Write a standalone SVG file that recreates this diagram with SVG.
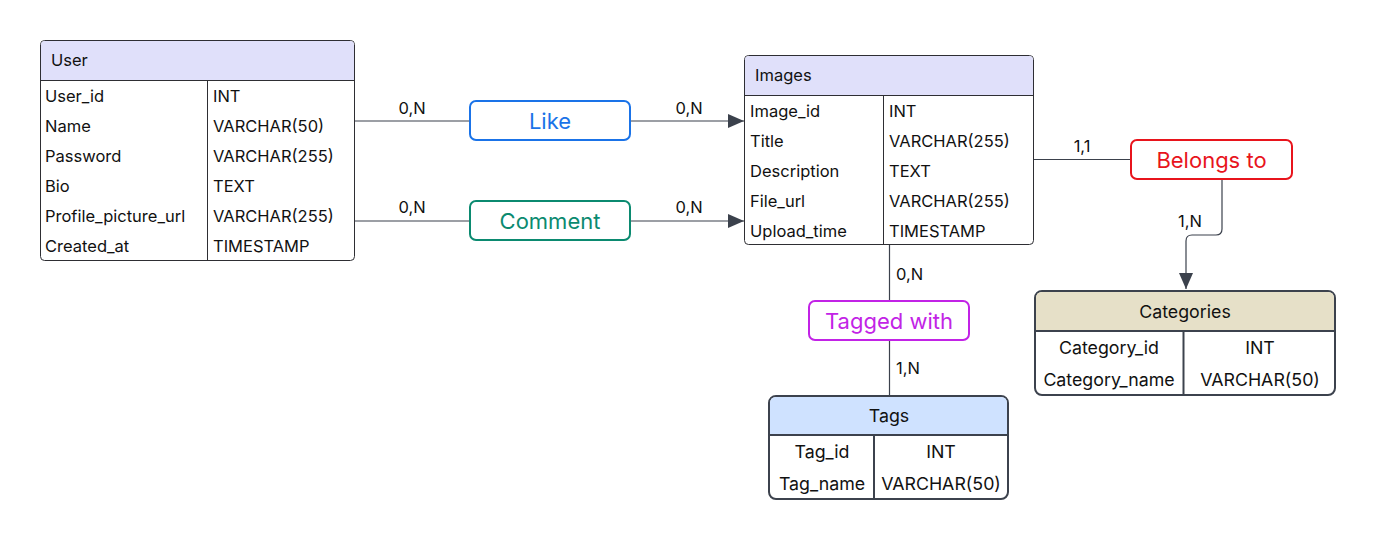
<svg xmlns="http://www.w3.org/2000/svg" width="1376" height="539" viewBox="0 0 1376 539">
<style>
text{font-family:Inter,"Noto Sans","Liberation Sans",sans-serif;fill:#111;}
.t{font-size:16.5px;}
.t2{font-size:17.8px;}
.c{text-anchor:middle;}
.lbl{font-size:16.5px;}
.rel{font-size:22px;text-anchor:middle;}
.e1{fill:#fff;stroke:#2e2e33;stroke-width:1;}
.e2{fill:#fff;stroke:#3c424d;stroke-width:2;}
.ln{stroke:#2e2e33;stroke-width:1;fill:none;}
.ln2{stroke:#3c424d;stroke-width:2;fill:none;}
.con{stroke:#3b414c;stroke-width:1.2;fill:none;}
</style>
<defs>
<marker id="ah" markerWidth="16" markerHeight="14" refX="16" refY="7" orient="auto" markerUnits="userSpaceOnUse">
<path d="M0,0 L16,7 L0,14 Z" fill="#3b414c"/>
</marker>
</defs>
<rect width="1376" height="539" fill="#fff"/>

<g id="connectors">
<line class="con" x1="355" y1="121" x2="470" y2="121"/>
<line class="con" x1="630" y1="121" x2="744" y2="121" marker-end="url(#ah)"/>
<line class="con" x1="355" y1="221" x2="470" y2="221"/>
<line class="con" x1="630" y1="221" x2="744" y2="221" marker-end="url(#ah)"/>
<line class="con" x1="1034" y1="159.5" x2="1131" y2="159.5"/>
<path class="con" d="M1222,179 V229 Q1222,235 1216,235 H1192 Q1186,235 1186,241 V289" marker-end="url(#ah)"/>
<line class="con" x1="889.5" y1="245" x2="889.5" y2="301"/>
<line class="con" x1="889.5" y1="340" x2="889.5" y2="395"/>
<text class="lbl c" x="412" y="114">0,N</text>
<text class="lbl c" x="689" y="114">0,N</text>
<text class="lbl c" x="412" y="213">0,N</text>
<text class="lbl c" x="689" y="213">0,N</text>
<text class="lbl c" x="1082" y="152">1,1</text>
<text class="lbl c" x="1190" y="227">1,N</text>
<text class="lbl" x="896" y="280">0,N</text>
<text class="lbl" x="896" y="374">1,N</text>
</g>

<g id="user">
<rect class="e1" x="40.5" y="40.5" width="314" height="220" rx="4"/>
<path d="M44.5,41 H350.5 Q354,41 354,44.5 V80.5 H41 V44.5 Q41,41 44.5,41 Z" fill="#e0e0fa"/>
<line class="ln" x1="40.5" y1="80.5" x2="354.5" y2="80.5"/>
<line class="ln" x1="207.5" y1="80.5" x2="207.5" y2="260.5"/>
<text class="t" x="51" y="66">User</text>
<text class="t" x="45" y="102">User_id</text><text class="t" x="213" y="102">INT</text>
<text class="t" x="45" y="132">Name</text><text class="t" x="213" y="132">VARCHAR(50)</text>
<text class="t" x="45" y="162">Password</text><text class="t" x="213" y="162">VARCHAR(255)</text>
<text class="t" x="45" y="192">Bio</text><text class="t" x="213" y="192">TEXT</text>
<text class="t" x="45" y="222">Profile_picture_url</text><text class="t" x="213" y="222">VARCHAR(255)</text>
<text class="t" x="45" y="252">Created_at</text><text class="t" x="213" y="252">TIMESTAMP</text>
</g>

<g id="images">
<rect class="e1" x="744.5" y="55.5" width="289" height="189" rx="4"/>
<path d="M748.5,56 H1029.5 Q1033,56 1033,59.5 V95.5 H745 V59.5 Q745,56 748.5,56 Z" fill="#e0e0fa"/>
<line class="ln" x1="744.5" y1="95.5" x2="1033.5" y2="95.5"/>
<line class="ln" x1="883.5" y1="95.5" x2="883.5" y2="244.5"/>
<text class="t" x="755" y="81">Images</text>
<text class="t" x="750" y="117">Image_id</text><text class="t" x="889" y="117">INT</text>
<text class="t" x="750" y="147">Title</text><text class="t" x="889" y="147">VARCHAR(255)</text>
<text class="t" x="750" y="177">Description</text><text class="t" x="889" y="177">TEXT</text>
<text class="t" x="750" y="207">File_url</text><text class="t" x="889" y="207">VARCHAR(255)</text>
<text class="t" x="750" y="237">Upload_time</text><text class="t" x="889" y="237">TIMESTAMP</text>
</g>

<g id="like">
<rect x="470" y="101" width="160" height="39" rx="6" fill="#fff" stroke="#1a73e8" stroke-width="2"/>
<text class="rel" x="550" y="128.5" style="fill:#1a73e8">Like</text>
</g>

<g id="comment">
<rect x="470" y="201" width="160" height="39" rx="6" fill="#fff" stroke="#0b8a70" stroke-width="2"/>
<text class="rel" x="550" y="228.5" style="fill:#0b8a70">Comment</text>
</g>

<g id="belongs_to">
<rect x="1131" y="140" width="161" height="39" rx="6" fill="#fff" stroke="#e8141c" stroke-width="2"/>
<text class="rel" x="1211.5" y="167.5" style="fill:#e8141c">Belongs to</text>
</g>

<g id="tagged_with">
<rect x="809" y="301" width="160" height="39" rx="6" fill="#fff" stroke="#c223e6" stroke-width="2"/>
<text class="rel" x="889" y="328.5" style="fill:#c223e6">Tagged with</text>
</g>

<g id="categories">
<rect class="e2" x="1035" y="291" width="300" height="104" rx="7"/>
<path d="M1042,292 H1328 Q1334,292 1334,298 V331 H1036 V298 Q1036,292 1042,292 Z" fill="#e6e0c8"/>
<line class="ln2" x1="1035" y1="331" x2="1335" y2="331"/>
<line class="ln2" x1="1183.5" y1="331" x2="1183.5" y2="395"/>
<text class="t2 c" x="1185" y="318">Categories</text>
<text class="t2 c" x="1109" y="354">Category_id</text><text class="t2 c" x="1260" y="354">INT</text>
<text class="t2 c" x="1109" y="386">Category_name</text><text class="t2 c" x="1260" y="386">VARCHAR(50)</text>
</g>

<g id="tags">
<rect class="e2" x="769" y="396" width="239" height="103" rx="7"/>
<path d="M776,397 H1001 Q1007,397 1007,403 V435 H770 V403 Q770,397 776,397 Z" fill="#cfe2ff"/>
<line class="ln2" x1="769" y1="435" x2="1008" y2="435"/>
<line class="ln2" x1="874" y1="435" x2="874" y2="499"/>
<text class="t2 c" x="889" y="422">Tags</text>
<text class="t2 c" x="822" y="458">Tag_id</text><text class="t2 c" x="941" y="458">INT</text>
<text class="t2 c" x="822" y="490">Tag_name</text><text class="t2 c" x="941" y="490">VARCHAR(50)</text>
</g>
</svg>
